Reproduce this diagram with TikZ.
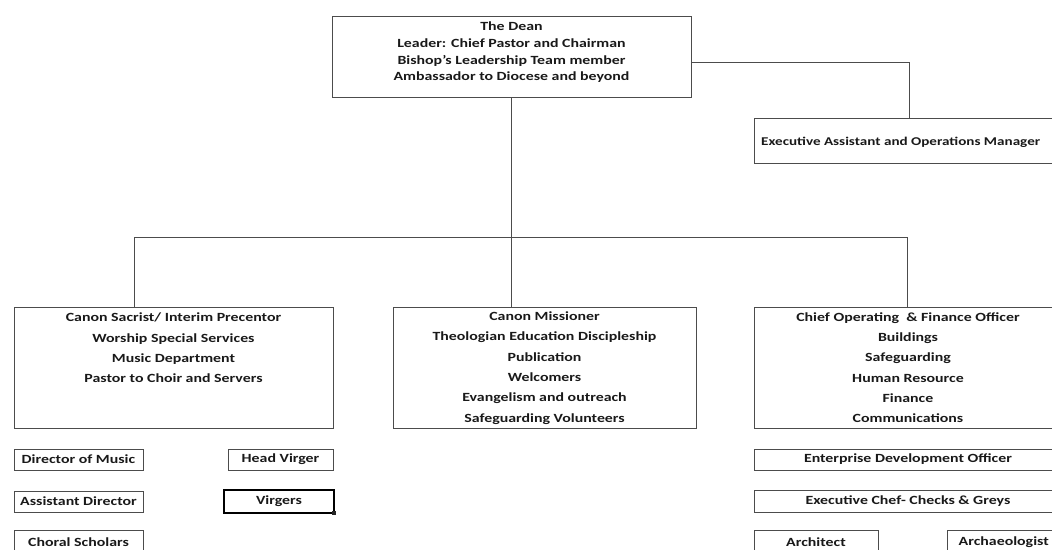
\documentclass[tikz,border=0pt]{standalone}
\usepackage{fontspec}
\setmainfont{Carlito}[FakeStretch=1.27]
\begin{document}
\begin{tikzpicture}[x=1pt,y=-1pt,
  box/.style={draw=black!70, line width=1pt, rectangle, inner sep=0pt, outer sep=0pt},
  txt/.style={font=\bfseries\fontsize{12.5}{20.3}\selectfont, align=center, inner sep=0pt, text=black!90},
  deantxt/.style={font=\bfseries\fontsize{12.5}{16.7}\selectfont, align=center, inner sep=0pt, text=black!90},
  conn/.style={draw=black!70, line width=1pt}]
\useasboundingbox (0,0) rectangle (1052,549);
\clip (0,0) rectangle (1052,549);
% main boxes
\node[box, minimum width=359pt, minimum height=81pt] (dean) at (511.5,56.5) {};
\node[deantxt] (deant) at (511.5,52.5) {The Dean\\Leader: Chief Pastor and Chairman\\Bishop's Leadership Team member\\Ambassador to Diocese and beyond};
\node[box, minimum width=316pt, minimum height=45pt] (exec) at (912,140.5) {};
\node[txt, font=\bfseries\fontsize{11.9}{14}\selectfont, anchor=west] (exect) at (761,142) {Executive Assistant and Operations Manager};
\node[box, minimum width=319pt, minimum height=121pt] (left) at (173.5,367.5) {};
\node[txt] (leftt) at (173.5,348) {Canon Sacrist/ Interim Precentor\\Worship Special Services\\Music Department\\Pastor to Choir and Servers};
\node[box, minimum width=303pt, minimum height=121pt] (mid) at (544.5,367.5) {};
\node[txt] (midt) at (544.5,368) {Canon Missioner\\Theologian Education Discipleship\\Publication\\Welcomers\\Evangelism and outreach\\Safeguarding Volunteers};
\node[box, minimum width=308pt, minimum height=121pt] (right) at (908,367.5) {};
\node[txt] (rightt) at (908,367.5) {Chief Operating \ \& Finance Officer\\Buildings\\Safeguarding\\Human Resource\\Finance\\Communications};
% small boxes left
\node[box, minimum width=129pt, minimum height=21pt, txt] (dom) at (78.5,459.5) {Director of Music};
\node[box, minimum width=105pt, minimum height=21pt, txt] (hv) at (280.5,459.5) {Head Virger};
\node[box, minimum width=129pt, minimum height=21pt, txt] (ad) at (78.5,501.5) {Assistant Director};
\node[box, draw=black, line width=1.6pt, minimum width=110pt, minimum height=23pt, txt] (vg) at (279,501.5) {Virgers};
\fill[black!85] (vg.south east) ++(-2pt,-2pt) rectangle ++(4pt,4pt);
\node[box, minimum width=129pt, minimum height=30pt] (cs) at (78.5,545) {};
\node[txt] (cst) at (78.5,542) {Choral Scholars};
% small boxes right
\node[box, minimum width=308pt, minimum height=21pt, txt] (edo) at (908,459.5) {Enterprise Development Officer};
\node[box, minimum width=308pt, minimum height=22pt, txt] (ec) at (908,501) {Executive Chef- Checks \& Greys};
\node[box, minimum width=124pt, minimum height=30pt] (arch) at (816,545) {};
\node[txt] (archt) at (816,542) {Architect};
\node[box, minimum width=126pt, minimum height=30pt] (arch2) at (1010,545) {};
\node[txt, anchor=east] (arch2t) at (1049,542) {Archaeologist};
% connectors
\coordinate (hb) at (511,237);
\coordinate (jl) at (134,237);
\coordinate (jr) at (907,237);
\coordinate (ej) at (909,62);
\draw[conn] (hb |- dean.south) -- (hb);
\draw[conn] (jl) -- (jr);
\draw[conn] (jl) -- (jl |- left.north);
\draw[conn] (hb) -- (hb |- mid.north);
\draw[conn] (jr) -- (jr |- right.north);
\draw[conn] ([yshift=-5.5pt]dean.east) -- (ej) -- (ej |- exec.north);
\end{tikzpicture}
\end{document}
